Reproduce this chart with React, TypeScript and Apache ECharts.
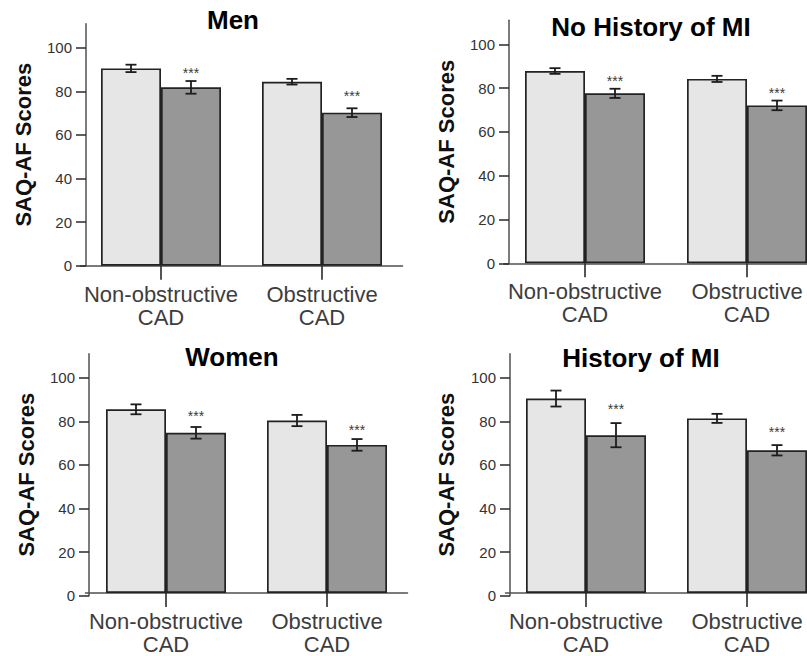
import React, { useEffect, useRef } from 'react';
import * as echarts from 'echarts';

// ---------- data ----------
const categories = ['Non-obstructive\nCAD', 'Obstructive\nCAD'];
const yTicks = [0, 20, 40, 60, 80, 100];
const panelTitles = ['Men', 'No History of MI', 'Women', 'History of MI'];
const yAxisTitle = 'SAQ-AF Scores';
const sigLabel = '***';

const menLight = [90.5, 84.4];
const menLightErr = [1.7, 1.3];
const menDark = [81.8, 70.2];
const menDarkErr = [2.9, 2.0];
const menSig = [89.8, 79.4];

const noMiLight = [87.8, 84.2];
const noMiLightErr = [1.3, 1.4];
const noMiDark = [77.6, 72.1];
const noMiDarkErr = [2.1, 2.2];
const noMiSig = [84.9, 79.5];

const womenLight = [85.2, 80.0];
const womenLightErr = [2.3, 2.6];
const womenDark = [74.3, 68.7];
const womenDarkErr = [2.7, 2.7];
const womenSig = [83.9, 77.4];

const miLight = [90.2, 81.0];
const miLightErr = [3.7, 2.1];
const miDark = [73.2, 66.2];
const miDarkErr = [5.6, 2.4];
const miSig = [87.0, 76.5];

const panelsData = [
  { light: menLight, lightErr: menLightErr, dark: menDark, darkErr: menDarkErr, sig: menSig },
  { light: noMiLight, lightErr: noMiLightErr, dark: noMiDark, darkErr: noMiDarkErr, sig: noMiSig },
  { light: womenLight, lightErr: womenLightErr, dark: womenDark, darkErr: womenDarkErr, sig: womenSig },
  { light: miLight, lightErr: miLightErr, dark: miDark, darkErr: miDarkErr, sig: miSig },
];

// ---------- layout ----------
const FONT = '"Liberation Sans", Arial, Helvetica, sans-serif';
const Y_MAX = 111;
const gridLayout = [
  { left: 80.5, top: 23.7, width: 322, height: 242, axisX: 86, nameGap: 52 },
  { left: 504, top: 20.2, width: 324, height: 243.1, axisX: 509, nameGap: 52 },
  { left: 85.5, top: 353.7, width: 322, height: 242, axisX: 89, nameGap: 52 },
  { left: 505.5, top: 353.7, width: 322, height: 242, axisX: 510, nameGap: 53 },
];
const titlePos = [
  { x: 233, y: 19.5 },
  { x: 651, y: 27 },
  { x: 232, y: 357 },
  { x: 641, y: 358 },
];
const BAR_W = 60;

const makeErr = (shift: number) => (params: any, api: any) => {
  const x = api.value(0);
  const lo = api.coord([x, api.value(1)]);
  const hi = api.coord([x, api.value(2)]);
  const cx = lo[0] + shift;
  const style = { stroke: '#1c1c1c', lineWidth: 1.8 };
  const cap = 5.5;
  return {
    type: 'group',
    children: [
      { type: 'line', shape: { x1: cx, y1: lo[1], x2: cx, y2: hi[1] }, style },
      { type: 'line', shape: { x1: cx - cap, y1: lo[1], x2: cx + cap, y2: lo[1] }, style },
      { type: 'line', shape: { x1: cx - cap, y1: hi[1], x2: cx + cap, y2: hi[1] }, style },
    ],
  };
};

const makeSig = (shift: number) => (params: any, api: any) => {
  const x = api.value(0);
  const p = api.coord([x, api.value(1)]);
  return {
    type: 'text',
    x: p[0] + shift,
    y: p[1] + 3.5,
    style: {
      text: sigLabel,
      font: `14px ${FONT}`,
      fill: '#3a3a3a',
      align: 'center',
      verticalAlign: 'middle',
    },
  };
};

function buildOption() {
  const grid: any[] = [];
  const xAxis: any[] = [];
  const yAxis: any[] = [];
  const series: any[] = [];
  const graphic: any[] = [];

  panelsData.forEach((pd, i) => {
    const g = gridLayout[i];
    const gi = 2 * i;
    grid.push({ left: g.left, top: g.top, width: g.width, height: g.height, containLabel: false });
    grid.push({ left: g.axisX, top: g.top, width: 10, height: g.height, containLabel: false });

    xAxis.push({
      type: 'category',
      gridIndex: gi,
      data: categories,
      boundaryGap: true,
      axisLine: { show: true, lineStyle: { color: '#505050', width: 1.5 } },
      axisTick: { show: true, alignWithLabel: true, length: 14, lineStyle: { color: '#2a2a2a', width: 1.6 } },
      axisLabel: {
        interval: 0,
        margin: 17,
        fontSize: 22,
        lineHeight: 23,
        color: '#3d3d3d',
        fontFamily: FONT,
      },
      splitLine: { show: false },
    });
    xAxis.push({ type: 'value', gridIndex: gi + 1, min: 0, max: 1, show: false });

    yAxis.push({ type: 'value', gridIndex: gi, min: 0, max: Y_MAX, interval: 20, show: false });
    yAxis.push({
      type: 'value',
      gridIndex: gi + 1,
      min: 0,
      max: Y_MAX,
      interval: 20,
      name: yAxisTitle,
      nameLocation: 'middle',
      nameGap: g.nameGap,
      nameTextStyle: { fontSize: 22, fontWeight: 'bold', color: '#111', fontFamily: FONT },
      axisLine: { show: true, lineStyle: { color: '#505050', width: 1.5 } },
      axisTick: { show: true, length: 10, customValues: yTicks, lineStyle: { color: '#2a2a2a', width: 1.5 } },
      axisLabel: { customValues: yTicks, margin: 14, fontSize: 15, color: '#333', fontFamily: FONT },
      splitLine: { show: false },
    });

    series.push({
      type: 'bar',
      xAxisIndex: gi,
      yAxisIndex: gi,
      data: pd.light,
      barWidth: BAR_W,
      barGap: '0%',
      itemStyle: { color: '#e6e6e6', borderColor: '#222', borderWidth: 1.7 },
      emphasis: { disabled: true },
    });
    series.push({
      type: 'bar',
      xAxisIndex: gi,
      yAxisIndex: gi,
      data: pd.dark,
      barWidth: BAR_W,
      barGap: '0%',
      itemStyle: { color: '#979797', borderColor: '#222', borderWidth: 1.7 },
      emphasis: { disabled: true },
    });
    series.push({
      type: 'custom',
      xAxisIndex: gi,
      yAxisIndex: gi,
      renderItem: makeErr(-BAR_W / 2),
      encode: { x: 0, y: [1, 2] },
      data: pd.light.map((v, k) => [k, v - pd.lightErr[k], v + pd.lightErr[k]]),
      z: 5,
    });
    series.push({
      type: 'custom',
      xAxisIndex: gi,
      yAxisIndex: gi,
      renderItem: makeErr(BAR_W / 2),
      encode: { x: 0, y: [1, 2] },
      data: pd.dark.map((v, k) => [k, v - pd.darkErr[k], v + pd.darkErr[k]]),
      z: 5,
    });
    series.push({
      type: 'custom',
      xAxisIndex: gi,
      yAxisIndex: gi,
      renderItem: makeSig(BAR_W / 2),
      encode: { x: 0, y: 1 },
      data: pd.sig.map((v, k) => [k, v]),
      z: 5,
    });

    graphic.push({
      type: 'text',
      x: titlePos[i].x,
      y: titlePos[i].y,
      style: {
        text: panelTitles[i],
        font: `bold 26px ${FONT}`,
        fill: '#000',
        align: 'center',
        verticalAlign: 'middle',
      },
    });
  });

  return {
    animation: false,
    backgroundColor: '#ffffff',
    grid,
    xAxis,
    yAxis,
    series,
    graphic,
  };
}

export default function App() {
  const ref = useRef<HTMLDivElement>(null);
  useEffect(() => {
    document.documentElement.style.overflow = 'hidden';
    document.body.style.overflow = 'hidden';
    document.body.style.margin = '0';
    if (!ref.current) return;
    const chart = echarts.init(ref.current, null, { renderer: 'svg' });
    chart.setOption(buildOption() as any);
    return () => chart.dispose();
  }, []);
  return (
    <div
      ref={ref}
      style={{ position: 'fixed', left: 0, top: 0, width: 840, height: 656, background: '#fff' }}
    />
  );
}
